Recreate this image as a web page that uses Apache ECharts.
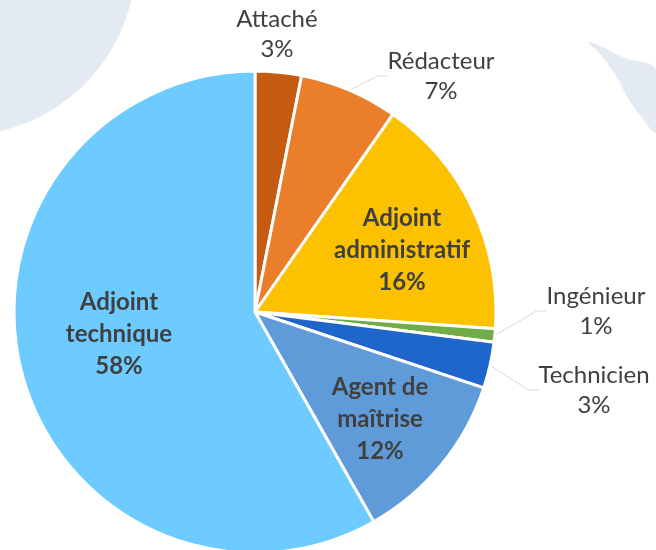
<!DOCTYPE html>
<html>
<head>
<meta charset="utf-8">
<script src="https://cdn.jsdelivr.net/npm/echarts@6/dist/echarts.min.js"></script>
<style>
  html, body { margin: 0; padding: 0; background: #fff; }
  #chart { width: 656px; height: 550px; }
</style>
</head>
<body>
<div id="chart"></div>
<script>
// Données
const categories = ['Attaché', 'Rédacteur', 'Adjoint administratif', 'Ingénieur', 'Technicien', 'Agent de maîtrise', 'Adjoint technique'];
const labelTexts = ['Attaché', 'Rédacteur', 'Adjoint\nadministratif', 'Ingénieur', 'Technicien', 'Agent de\nmaîtrise', 'Adjoint\ntechnique'];
const values = [3.1, 6.6, 16.4, 0.9, 3.1, 11.7, 58.2];
const colors = ['#C55A11', '#EB7E2A', '#FCC200', '#70AD47', '#1F66CC', '#5E9BD8', '#6DCBFF'];
const insideLabels = [false, false, true, false, false, true, true];
const showLines = [false, true, false, true, true, false, false];

// Position des étiquettes (centre du texte)
const labelPos = [[277, 34], [441, 76], [402, 250], [596, 311], [594, 390], [380, 419], [119, 334]];

const chart = echarts.init(document.getElementById('chart'));

const seriesData = categories.map((name, i) => ({
    name: name,
    value: values[i],
    itemStyle: { color: colors[i] },
    label: insideLabels[i]
        ? { position: 'inside', fontWeight: 'bold', fontSize: 24, lineHeight: 32 }
        : { position: 'outside', fontWeight: 'normal', fontSize: 24, lineHeight: 30 },
    labelLine: { show: showLines[i] }
}));

const option = {
    backgroundColor: '#fff',
    graphic: [
        { type: 'circle', shape: { cx: -40, cy: -40, r: 176 }, style: { fill: '#E4EAF2' }, z: -10 },
        {
            type: 'polygon', z: -10,
            shape: { points: [[588, 42], [598, 45], [625, 58], [656, 70], [656, 132], [640, 115], [628, 98], [616, 76], [600, 54]], smooth: 0.4 },
            style: { fill: '#E4EAF2' }
        }
    ],
    series: [{
        type: 'pie',
        center: [255, 312],
        radius: 241,
        startAngle: 90,
        clockwise: true,
        avoidLabelOverlap: false,
        percentPrecision: 0,
        itemStyle: { borderColor: '#fff', borderWidth: 3 },
        label: {
            color: '#404040',
            fontFamily: 'Lato',
            align: 'center',
            formatter: p => labelTexts[p.dataIndex] + '\n' + p.percent + '%'
        },
        labelLine: {
            length: 15,
            length2: 10,
            lineStyle: { color: '#D9D9D9', width: 1 }
        },
        labelLayout: function (params) {
            const p = labelPos[params.dataIndex];
            return { x: p[0], y: p[1], align: 'center', verticalAlign: 'middle' };
        },
        emphasis: { disabled: true },
        animation: false,
        data: seriesData
    }]
};
chart.setOption(option);
window.addEventListener('resize', () => chart.resize());
</script>
</body>
</html>
